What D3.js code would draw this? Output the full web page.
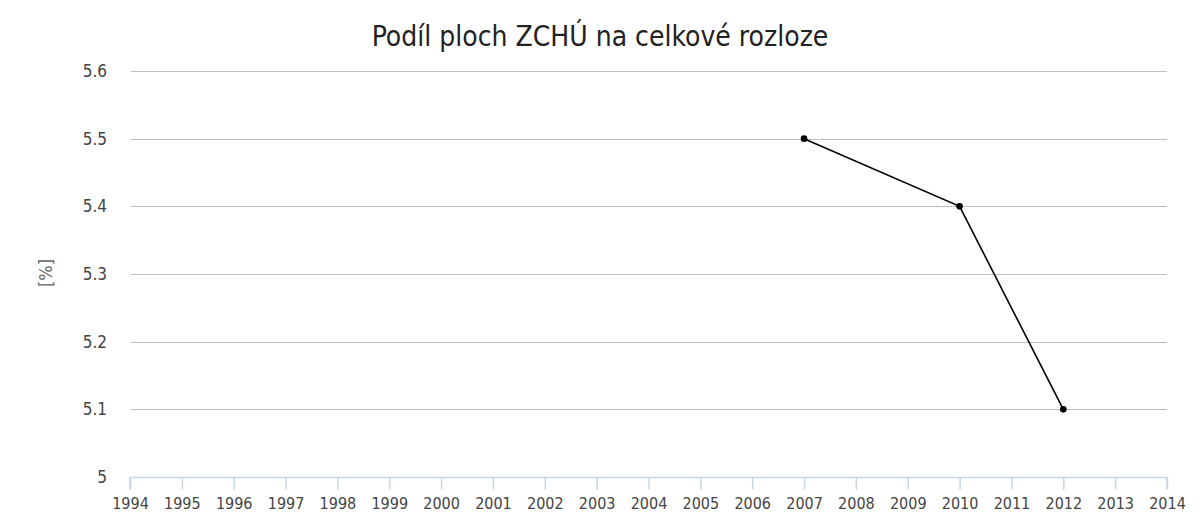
<!DOCTYPE html>
<html>
<head>
<meta charset="utf-8">
<script src="https://cdn.jsdelivr.net/npm/d3@7"></script>
<style>
  body { margin: 0; background: #fff; }
  text { font-family: "DejaVu Sans Condensed", "DejaVu Sans", sans-serif; }
</style>
</head>
<body>
<div id="chart"></div>
<script>
// chart data
const years = d3.range(1994, 2015);
const dataYears = [2007, 2010, 2012];
const dataValues = [5.5, 5.4, 5.1];
const yTicks = [5, 5.1, 5.2, 5.3, 5.4, 5.5, 5.6];
const title = "Podíl ploch ZCHÚ na celkové rozloze";
const yLabel = "[%]";

const width = 1201, height = 515;
const margin = { left: 130, right: 34, top: 71, bottom: 38 };

const svg = d3.select("#chart").append("svg")
    .attr("width", width)
    .attr("height", height);

const x = d3.scaleLinear()
    .domain([1994, 2014])
    .range([margin.left, width - margin.right]);

const y = d3.scaleLinear()
    .domain([5, 5.6])
    .range([height - margin.bottom, margin.top]);

// title
svg.append("text")
    .attr("x", 600)
    .attr("y", 46)
    .attr("text-anchor", "middle")
    .style("font-size", "28px")
    .attr("fill", "#222")
    .text(title);

// grid lines
svg.append("g")
    .selectAll("line")
    .data(yTicks.filter(d => d > 5))
    .join("line")
    .attr("x1", x(1994) + 1)
    .attr("x2", x(2014))
    .attr("y1", d => Math.round(y(d)) + 0.5)
    .attr("y2", d => Math.round(y(d)) + 0.5)
    .attr("stroke", "#bdbdbd")
    .attr("stroke-width", 1.2);

// y axis labels
svg.append("g")
    .selectAll("text")
    .data(yTicks)
    .join("text")
    .attr("x", 107)
    .attr("y", d => y(d) + 6)
    .attr("text-anchor", "end")
    .style("font-size", "17px")
    .attr("fill", "#444")
    .text(d => d3.format("")(d));

svg.append("text")
    .attr("transform", `translate(52,${y(5.3) - 1}) rotate(-90)`)
    .attr("text-anchor", "middle")
    .style("font-size", "18px")
    .attr("fill", "#666")
    .text(yLabel);

// x axis
const xAxis = d3.axisBottom(x)
    .tickValues(years)
    .tickFormat(d3.format("d"))
    .tickSize(12)
    .tickPadding(8);

const gx = svg.append("g")
    .attr("transform", `translate(0,${Math.round(y(5)) + 0.5})`)
    .call(xAxis);

gx.select(".domain").attr("stroke", "#c5d6e6").attr("stroke-width", 1.5)
    .attr("d", `M${x(1994)},12V0H${x(2014)}V12`);
gx.selectAll(".tick line").attr("stroke", "#c5d6e6").attr("stroke-width", 1.5);
gx.selectAll(".tick text")
    .style("font-size", "16px")
    .attr("fill", "#444")
    .style("font-family", "'DejaVu Sans Condensed', 'DejaVu Sans', sans-serif");

// series
const pts = dataYears.map((d, i) => ({ year: d, value: dataValues[i] }));

svg.append("path")
    .datum(pts)
    .attr("fill", "none")
    .attr("stroke", "#000")
    .attr("stroke-width", 1.6)
    .attr("d", d3.line().x(d => x(d.year)).y(d => y(d.value)));

svg.append("g")
    .selectAll("circle")
    .data(pts)
    .join("circle")
    .attr("cx", d => x(d.year))
    .attr("cy", d => y(d.value))
    .attr("r", 3.3)
    .attr("fill", "#000");
</script>
</body>
</html>
